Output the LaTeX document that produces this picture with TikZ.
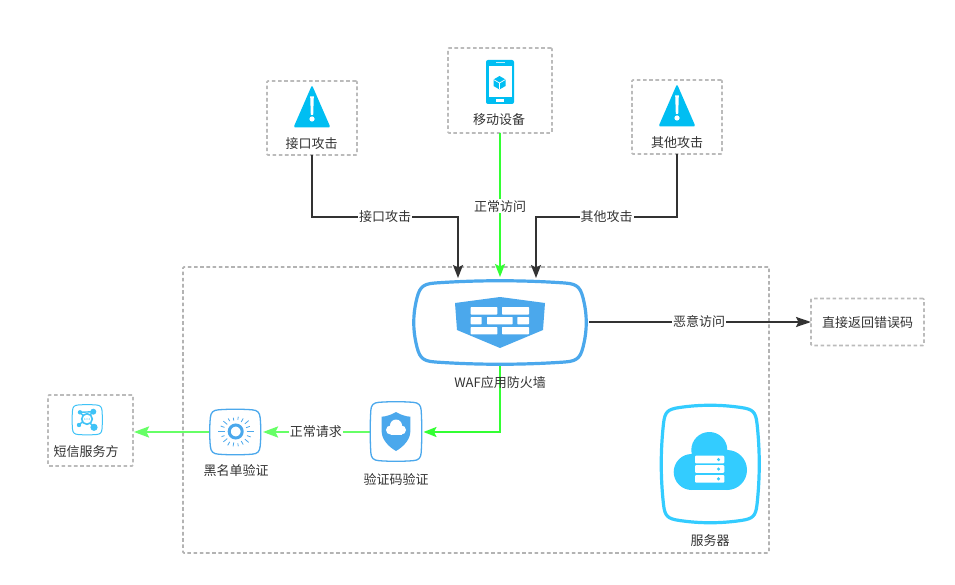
\documentclass[tikz,border=0pt]{standalone}
\usepackage{fontspec}
\setmainfont{Noto Sans CJK SC}
\usetikzlibrary{arrows.meta,calc}
\definecolor{txt}{HTML}{333333}
\definecolor{dk}{HTML}{333333}
\definecolor{grn}{HTML}{33FF33}
\definecolor{lgrn}{HTML}{66FF66}
\definecolor{dashg}{HTML}{BBBBBB}
\definecolor{dasho}{HTML}{B3B3B3}
\definecolor{wafb}{HTML}{4BA8EC}
\definecolor{srv}{HTML}{33CCFF}
\definecolor{tri}{HTML}{00BEF2}
\definecolor{sms}{HTML}{3FC3F7}
\tikzset{
 x=1pt,y=-1pt,
 dbox/.style={draw=dashg,line width=1.7pt,dash pattern=on 3.6pt off 2.6pt,rounded corners=1pt,inner sep=0pt,outer sep=0pt,anchor=north west},
 lab/.style={text=txt,font=\fontsize{13}{15}\selectfont,inner sep=0pt},
 elab/.style={lab,fill=white,inner sep=1pt},
 blackarrow/.style={draw=dk,line width=2pt,-{Stealth[length=13pt,width=10pt,inset=2.5pt]}},
 greenarrow/.style={draw=grn,line width=2pt,-{Stealth[length=13pt,width=10pt,inset=2.5pt]}},
 lgreenarrow/.style={draw=lgrn,line width=2.2pt,-{Stealth[length=15pt,width=11pt,inset=2.5pt]}},
}
% x0,y0,x1,y1,corner,bulge,style : smooth bowed rounded box
\newcommand\sqshape[7]{%
 \pgfmathsetmacro\xa{#1+#5}\pgfmathsetmacro\xb{#3-#5}%
 \pgfmathsetmacro\ya{#2+#5}\pgfmathsetmacro\yb{#4-#5}%
 \pgfmathsetmacro\xc{#1+#6}\pgfmathsetmacro\xd{#3-#6}%
 \pgfmathsetmacro\yc{#2+#6}\pgfmathsetmacro\yd{#4-#6}%
 \pgfmathsetmacro\dx{(\xb-\xa)/3}\pgfmathsetmacro\dy{(\yb-\ya)/3}%
 \pgfmathsetmacro\kk{#5*0.62}%
 \pgfmathsetmacro\sa{\kk*#6/\dx}\pgfmathsetmacro\sb{\kk*#6/\dy}%
 \pgfmathsetmacro\mxa{\xa+\dx}\pgfmathsetmacro\mxb{\xb-\dx}%
 \pgfmathsetmacro\mya{\ya+\dy}\pgfmathsetmacro\myb{\yb-\dy}%
 \draw[#7] (\xa,\yc) .. controls (\mxa,#2) and (\mxb,#2) .. (\xb,\yc)
  .. controls (\xb+\kk,\yc+\sa) and (\xd-\sb,\ya-\kk) .. (\xd,\ya)
  .. controls (#3,\mya) and (#3,\myb) .. (\xd,\yb)
  .. controls (\xd-\sb,\yb+\kk) and (\xb+\kk,\yd-\sa) .. (\xb,\yd)
  .. controls (\mxb,#4) and (\mxa,#4) .. (\xa,\yd)
  .. controls (\xa-\kk,\yd-\sa) and (\xc+\sb,\yb+\kk) .. (\xc,\yb)
  .. controls (#1,\myb) and (#1,\mya) .. (\xc,\ya)
  .. controls (\xc+\sb,\ya-\kk) and (\xa-\kk,\yc+\sa) .. (\xa,\yc) -- cycle;%
}
\newcommand\warnicon[1]{%
 \begin{scope}[xshift=#1]
 \fill[tri,rounded corners=2pt] (0,85) -- (18.5,127.5) -- (-18.5,127.5) -- cycle;
 \fill[white] (-1.8,96.5) -- (1.8,96.5) -- (1.2,115) -- (-1.2,115) -- cycle;
 \fill[white] (0,119) circle[radius=2.6];
 \end{scope}%
}
\begin{document}
\begin{tikzpicture}
\useasboundingbox[fill=white] (0,0) rectangle (955,585);
% outer boundary
\node[dbox,minimum width=586pt,minimum height=286pt,draw=dasho] (zone) at (183,267) {};
% dashed boxes
\node[dbox,minimum width=90pt,minimum height=74pt] (jk) at (267,81) {};
\node[dbox,minimum width=104pt,minimum height=85pt] (yd) at (448,48) {};
\node[dbox,minimum width=90pt,minimum height=74pt] (qt) at (632,80) {};
\node[dbox,minimum width=113pt,minimum height=47pt] (zj) at (811,298.5) {};
\node[dbox,minimum width=85pt,minimum height=71pt] (dx) at (48,395) {};
% icon holders
\node[inner sep=0pt,outer sep=0pt,minimum width=174pt,minimum height=85pt] (waf) at (500,322) {};
\node[inner sep=0pt,outer sep=0pt,minimum width=52pt,minimum height=60pt] (yz) at (396,432) {};
\node[inner sep=0pt,outer sep=0pt,minimum width=52pt,minimum height=46pt] (hm) at (235.5,432) {};
% connectors
\coordinate (jkb) at (312,217);
\coordinate (qtb) at (677,217);
\draw[blackarrow,shorten >=1.5pt] (jk.south) -- (jkb) -| node[pos=0.25,elab] (l1) {接口攻击} ($(waf.north)+(-42,0)$);
\draw[blackarrow,shorten >=1.5pt] (qt.south) -- (qtb) -| node[pos=0.25,elab] (l3) {其他攻击} ($(waf.north)+(36,0)$);
\draw[greenarrow,shorten >=2.5pt] (yd.south) -- node[pos=0.5,elab] (l2) {正常访问} (yd.south |- waf.north);
\draw[draw=dk,line width=2pt,-{Stealth[length=15pt,width=10pt,inset=2.5pt]},shorten <=2pt] (waf.east) -- node[elab] (l4) {恶意访问} (zj.west);
\draw[greenarrow,shorten >=1.5pt] (waf.south -| yd.south) |- (yz.east);
\draw[lgreenarrow,shorten >=1.5pt] (yz.west) -- node[pos=0.5,elab] (l5) {正常请求} (hm.east);
\draw[lgreenarrow,shorten >=1pt] (hm.west) -- (dx.east |- hm.west);
% WAF
\sqshape{413}{280}{587}{365}{22}{3}{draw=wafb,line width=3.2pt}
\fill[wafb] (500,297) -- (545,303) -- (543,330) -- (500,348) -- (457,330) -- (455,303) -- cycle;
\foreach \a/\b/\c/\d in {470.7/307/497.3/314.5,502/307/529/314.5,470.7/317/481.7/324.3,487/317/512.7/324.3,517.3/317/529/324.3,470.7/327/497.3/334.3,502/327/529/334.3}
 \fill[white,rounded corners=0.6pt] (\a,\b) rectangle (\c,\d);
% warning icons
\warnicon{312}
\begin{scope}[yshift=1pt]\warnicon{677}\end{scope}
% phone
\fill[tri,rounded corners=2pt] (486,60) rectangle (514,104);
\fill[white] (488.7,66) rectangle (511.7,97.3);
\fill[white!75!tri] (496,62) rectangle (505,63.4);
\fill[white] (496,99.5) rectangle (504,101.6);
\fill[tri] (499.5,76) -- (505.5,79.5) -- (505.5,86) -- (499.5,89.5) -- (493.5,86) -- (493.5,79.5) -- cycle;
\draw[white,line width=0.7pt] (493.5,79.5) -- (499.5,83) -- (505.5,79.5) (499.5,83) -- (499.5,89.5);
% SMS icon
\sqshape{72}{404.5}{102.5}{435}{6}{0.5}{draw=sms,line width=1pt}
\draw[sms,line width=1.4pt] (80,412.3) -- (93.3,411.7) (80,412.3) -- (94,427.3) (93.3,411.7) -- (79,425);
\draw[sms,line width=1.6pt,fill=white] (87,419) circle[radius=5.3];
\fill[sms] (80,412.3) circle[radius=2.2];
\fill[sms] (93.3,411.7) circle[radius=3];
\fill[sms] (94,427.3) circle[radius=3.6];
\fill[sms] (79,425) circle[radius=2.2];
\fill[sms] (84.8,419) circle[radius=0.7];
\fill[sms] (87,419) circle[radius=0.7];
\fill[sms] (89.2,419) circle[radius=0.7];
% blacklist icon
\sqshape{209.5}{409}{261}{455}{9}{0.8}{draw=wafb,line width=1.3pt}
\draw[wafb,line width=3pt] (235.7,431.5) circle[radius=6.5];
\foreach \an/\ra/\rb in {0/11/18,20/12/16,40/12/17,60/11/15,80/12/15,100/11/15,120/12/16,140/11/16,160/12/15,180/11/18,200/12/16,220/11/16,240/12/15,260/11/14,280/12/15,300/11/15,320/12/17,340/11/15}
 \draw[wafb,line width=0.8pt] ($(235.7,431.5)+(\an:\ra)$) -- ($(235.7,431.5)+(\an:\rb)$);
% captcha shield
\sqshape{370}{401.5}{422}{461.5}{9}{0.8}{draw=wafb,line width=1.3pt}
\fill[wafb] (396,412) .. controls (391,415) and (386,416.5) .. (381.7,416.7) -- (381.7,432) .. controls (382,440) and (389,447) .. (396,451) .. controls (403,447) and (410,440) .. (410.3,432) -- (410.3,416.7) .. controls (406,416.5) and (401,415) .. (396,412) -- cycle;
\fill[white] (390.5,430) circle[radius=4.5];
\fill[white] (396,425.5) circle[radius=6];
\fill[white] (401.5,430) circle[radius=4.5];
\fill[white] (390.5,430) rectangle (401.5,434.5);
% server
\sqshape{660.5}{404.5}{760}{523.5}{19}{3}{draw=srv,line width=3.2pt}
\fill[srv] (709.3,450) circle[radius=18];
\fill[srv] (691.7,472) circle[radius=18];
\fill[srv] (727,470) circle[radius=20];
\fill[srv] (692,460) rectangle (727,490);
\foreach \t in {455.7,465.2,475}{
 \fill[white,rounded corners=1pt] (695,\t) rectangle (724.3,\t+7.7);
 \fill[srv] (718.5,\t+3.85) circle[radius=1.7];
}
% labels
\node[lab] (t1) at (311.5,144) {接口攻击};
\node[lab] (t2) at (499,120) {移动设备};
\node[lab] (t3) at (677,143) {其他攻击};
\node[lab] (t4) at (867.5,323) {直接返回错误码};
\node[lab] (t5) at (500,383) {WAF应用防火墙};
\node[lab] (t6) at (86,452) {短信服务方};
\node[lab] (t7) at (236,471) {黑名单验证};
\node[lab] (t8) at (396,479) {验证码验证};
\node[lab] (t9) at (710,541) {服务器};
\end{tikzpicture}
\end{document}
